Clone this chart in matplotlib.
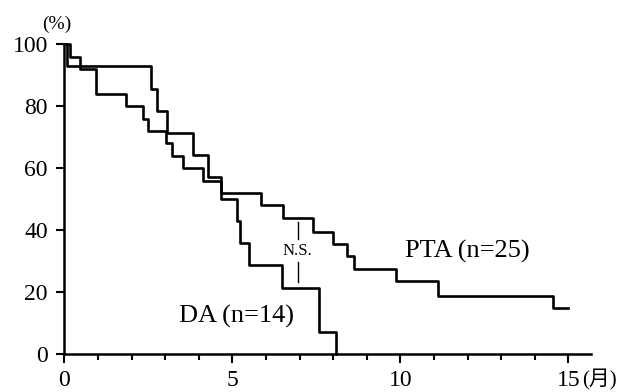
import matplotlib
matplotlib.use("Agg")
import matplotlib.pyplot as plt
from matplotlib.ticker import MultipleLocator

plt.rcParams['font.family'] = ['Liberation Serif', 'Noto Sans CJK JP']

# Data (Kaplan-Meier style step curves)
pta_t = [0, 0.16, 0.46, 0.93, 1.84, 2.33, 2.48, 3.02, 3.20, 3.54, 4.11, 4.65,
         5.84, 6.51, 7.41, 8.00, 8.40, 8.62, 9.86, 11.13, 14.55, 15.0]
pta_s = [100, 96, 92, 84, 80, 76, 72, 68, 64, 60, 56, 52,
         48, 44, 39.5, 35.5, 31.5, 27.5, 23.5, 18.8, 14.7, 14.7]

da_t = [0, 0.07, 2.59, 2.76, 3.04, 3.84, 4.27, 4.67, 5.13, 5.22, 5.50, 6.47, 7.58, 8.08]
da_s = [100, 92.9, 85.7, 78.6, 71.4, 64.3, 57.1, 50, 42.9, 35.7, 28.6, 21.4, 7.1, 0]

x_major = [0, 5, 10, 15]
x_labels = ['0', '5', '10', '15']
y_major = [0, 20, 40, 60, 80, 100]

fig = plt.figure(figsize=(6.29, 3.92), dpi=100)
ax = fig.add_axes([0.1025, 0.097, 0.8375, 0.790])

ax.plot(pta_t, pta_s, drawstyle='steps-post', color='black', lw=1.9, clip_on=False)
ax.plot(da_t, da_s, drawstyle='steps-post', color='black', lw=1.9, clip_on=False)

ax.set_xlim(0, 15.68)
ax.set_ylim(0, 100)

for s in ['top', 'right']:
    ax.spines[s].set_visible(False)
for s in ['left', 'bottom']:
    ax.spines[s].set_linewidth(1.8)

ax.set_xticks(x_major)
ax.set_xticklabels(x_labels)
ax.xaxis.set_minor_locator(MultipleLocator(1))
ax.set_yticks(y_major)
ax.tick_params(axis='x', which='major', direction='out', length=6.5, width=1.5,
               labelsize=17, pad=5)
ax.tick_params(axis='x', which='minor', direction='out', length=4.3, width=1.5)
ax.tick_params(axis='y', which='major', direction='out', length=6, width=1.5,
               labelsize=17, pad=6)

# unit labels
fig.text(57 / 629, 1 - 24 / 392, '(%)', ha='center', va='center', fontsize=14)
ax.annotate('(月)', xy=(15, 0), xycoords='data', xytext=(10, -11.5),
            textcoords='offset points', ha='left', va='top', fontsize=15)

# group labels
ax.text(5.13, 12, 'DA (n=14)', ha='center', va='center', fontsize=19)
ax.text(11.98, 33, 'PTA (n=25)', ha='center', va='center', fontsize=19)

# N.S. marker
ax.plot([6.94, 6.94], [42.7, 37.0], color='black', lw=1.0)
ax.plot([6.94, 6.94], [29.7, 23.3], color='black', lw=1.0)
ax.text(6.94, 33.2, 'N.S.', ha='center', va='center', fontsize=12)

fig.savefig('out.png', dpi=100)
